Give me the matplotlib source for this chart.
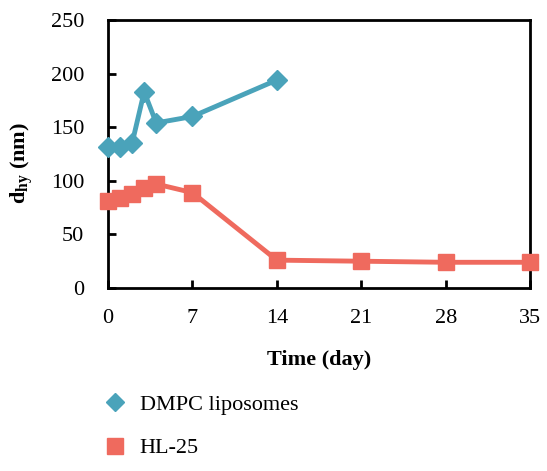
import matplotlib.pyplot as plt
from matplotlib.lines import Line2D

plt.rcParams['font.family'] = ['Liberation Serif', 'DejaVu Serif']
plt.rcParams['mathtext.fontset'] = 'custom'
plt.rcParams['mathtext.rm'] = 'Liberation Serif'
plt.rcParams['mathtext.bf'] = 'Liberation Serif:bold'

# data
days_dmpc = [0, 1, 2, 3, 4, 7, 14]
dhy_dmpc = [132, 132, 135, 183, 154, 160, 194]
days_hl = [0, 1, 2, 3, 4, 7, 14, 21, 28, 35]
dhy_hl = [81, 84, 88, 93, 97, 89, 26, 25, 24, 24]

teal = '#4aa3ba'
salmon = '#ef6a5e'

fig = plt.figure(figsize=(5.47, 4.71), dpi=100)
ax = fig.add_axes([0.1974, 0.3885, 0.7716, 0.569])

ax.plot(days_dmpc, dhy_dmpc, color=teal, lw=3.5, marker='D', ms=10, clip_on=False, zorder=3)
ax.plot(days_hl, dhy_hl, color=salmon, lw=3.5, marker='s', ms=12, clip_on=False, zorder=3)

ax.set_xlim(0, 35)
ax.set_ylim(0, 250)
ax.set_xticks([0, 7, 14, 21, 28, 35])
ax.set_yticks([0, 50, 100, 150, 200, 250])
ax.tick_params(direction='in', length=6, width=2, labelsize=16)
ax.tick_params(axis='x', pad=15)
ax.tick_params(axis='y', pad=17)
for s in ax.spines.values():
    s.set_linewidth(2)

ax.set_xlabel('Time (day)', fontsize=16, fontweight='bold', labelpad=16)
ax.set_ylabel(r'$\mathbf{d_{hy}}$ (nm)', fontsize=16, fontweight='bold')
ax.yaxis.set_label_coords(-0.172, 0.466)

handles = [
    Line2D([], [], color=teal, marker='D', ls='none', ms=9),
    Line2D([], [], color=salmon, marker='s', ls='none', ms=12),
]
fig.legend(handles, ['DMPC liposomes', 'HL-25'], loc='upper left',
           bbox_to_anchor=(0.15, 0.206), frameon=False, fontsize=16,
           handlelength=1.2, handletextpad=0.5, labelspacing=1.05)

fig.savefig('out.png', dpi=100)
